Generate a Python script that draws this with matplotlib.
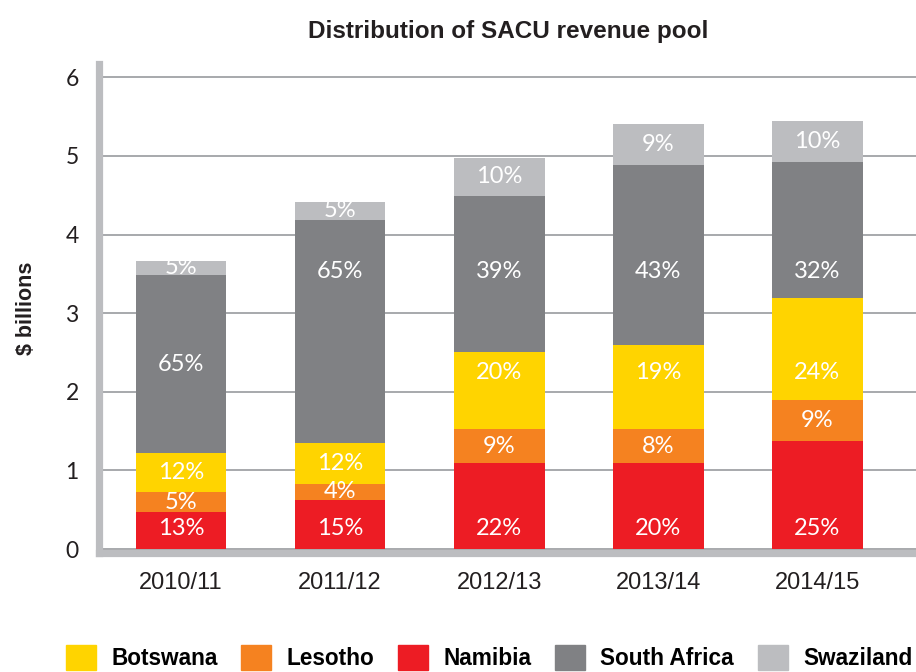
""" Distribución del fondo de ingresos de la SACU (en miles de millones de $)
Barras apiladas por país con el porcentaje de cada segmento.
"""
import numpy as np
import matplotlib.pyplot as plt
from matplotlib.patches import Patch

# --------------------- DATOS --------------------- #
years = ["2010/11", "2011/12", "2012/13", "2013/14", "2014/15"]

namibia = [0.47, 0.63, 1.09, 1.09, 1.37]
lesotho = [0.25, 0.20, 0.44, 0.44, 0.52]
botswana = [0.50, 0.52, 0.98, 1.06, 1.30]
south_africa = [2.26, 2.84, 1.98, 2.30, 1.73]
swaziland = [0.19, 0.22, 0.49, 0.52, 0.52]

namibia_pct = ["13%", "15%", "22%", "20%", "25%"]
lesotho_pct = ["5%", "4%", "9%", "8%", "9%"]
botswana_pct = ["12%", "12%", "20%", "19%", "24%"]
south_africa_pct = ["65%", "65%", "39%", "43%", "32%"]
swaziland_pct = ["5%", "5%", "10%", "9%", "10%"]

# orden de apilado (de abajo hacia arriba)
series = [
    ("Namibia", namibia, namibia_pct, "#ED1C24"),
    ("Lesotho", lesotho, lesotho_pct, "#F58220"),
    ("Botswana", botswana, botswana_pct, "#FFD400"),
    ("South Africa", south_africa, south_africa_pct, "#808184"),
    ("Swaziland", swaziland, swaziland_pct, "#BCBDC0"),
]
legend_order = ["Botswana", "Lesotho", "Namibia", "South Africa", "Swaziland"]

# filas donde se alinean algunas etiquetas (si caben en el segmento)
label_rows = {"Namibia": 0.26, "Botswana": 2.25, "South Africa": 3.53}

AXIS_GREY = "#BCBDC0"
DARK = "#231F20"

# --------------------- GRÁFICO --------------------- #
fig = plt.figure(figsize=(9.16, 6.72), dpi=100)
ax = fig.add_axes([0.1086, 0.1771, 0.8914, 0.7277])

x = np.arange(len(years))
bottom = np.zeros(len(years))
colors = {}
for name, values, pcts, color in series:
    values = np.array(values)
    ax.bar(x, values, width=0.57, bottom=bottom, color=color, zorder=3)
    colors[name] = color
    for i in range(len(years)):
        lo, hi = bottom[i], bottom[i] + values[i]
        y = (lo + hi) / 2
        row = label_rows.get(name)
        if row is not None and lo < row < hi:
            y = row
        ax.text(x[i], y, pcts[i], ha="center", va="center", color="white",
                fontsize=17, family="Lato", zorder=4)
    bottom += values

ax.set_xlim(-0.513, 4.62)
ax.set_ylim(-0.05, 6.17)
ax.set_yticks(range(0, 7))
ax.set_xticks(x)
ax.set_xticklabels(years, family="Liberation Sans", fontsize=17, color=DARK)
for lbl in ax.get_yticklabels():
    lbl.set_family("Lato")
    lbl.set_fontsize(16.5)
    lbl.set_color(DARK)
ax.tick_params(axis="x", length=0, pad=14)
ax.tick_params(axis="y", length=0, pad=15)

ax.grid(axis="y", color="#A7A9AC", linewidth=1.4, zorder=0)
for side in ["top", "right"]:
    ax.spines[side].set_visible(False)
for side in ["left", "bottom"]:
    ax.spines[side].set_color(AXIS_GREY)
    ax.spines[side].set_linewidth(5.2)

ax.set_ylabel("$ billions", fontsize=15.5, fontweight="bold", color=DARK,
              family="Liberation Sans", labelpad=20)
ax.set_title("Distribution of SACU revenue pool", fontsize=17.5, fontweight="bold",
             color=DARK, family="Liberation Sans", pad=19)

handles = [Patch(color=colors[n]) for n in legend_order]
fig.legend(handles, legend_order, loc="lower left", bbox_to_anchor=(0.072, 0.003),
           ncol=5, frameon=False, borderpad=0, borderaxespad=0,
           handlelength=1.33, handleheight=1.33, handletextpad=0.66, columnspacing=1.06,
           prop={"family": "Liberation Sans", "weight": "bold", "size": 16.3})

plt.savefig("out.png", dpi=100)
